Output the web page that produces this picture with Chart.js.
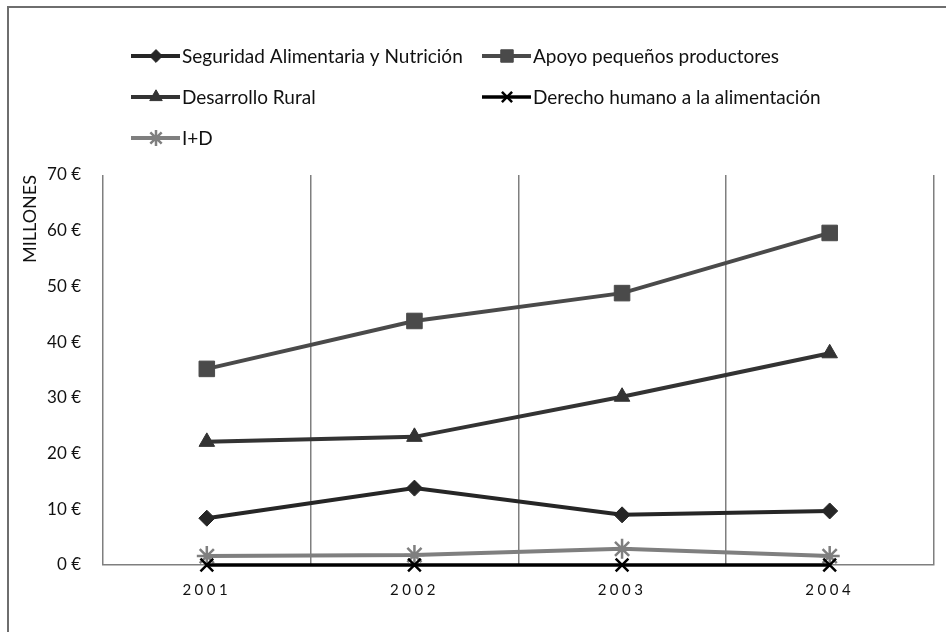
<!DOCTYPE html>
<html>
<head>
<meta charset="utf-8">
<script src="https://cdn.jsdelivr.net/npm/chart.js@4/dist/chart.umd.min.js"></script>
<style>
  html, body { margin: 0; padding: 0; background: #fff; }
  #wrap { position: relative; width: 946px; height: 632px; overflow: hidden; }
  #frame { position: absolute; left: 7px; top: 6px; width: 1000px; height: 1000px; border: 2px solid #6e6e6e; }
  #chart { position: absolute; left: 0; top: 0; }
</style>
</head>
<body>
<div id="wrap">
  <div id="frame"></div>
  <canvas id="chart" width="946" height="632"></canvas>
</div>
<script>
// Data
const years = ['2001', '2002', '2003', '2004'];
const seguridad = [8.4, 13.8, 9.0, 9.7];
const apoyo = [35.2, 43.8, 48.8, 59.6];
const desarrollo = [22.1, 23.0, 30.2, 38.0];
const derecho = [0, 0, 0, 0];
const imasd = [1.6, 1.8, 2.9, 1.6];
const yTicks = [0, 10, 20, 30, 40, 50, 60, 70];

const FONT = 'Lato, "Open Sans", sans-serif';
const TEXT = '#111111';

function series(label, data, color, style, radius, width) {
    const thin = (style === 'crossRot' || style === 'star');
    return {
        label: label,
        data: data,
        borderColor: color,
        backgroundColor: color,
        pointBackgroundColor: color,
        pointBorderColor: color,
        pointStyle: style,
        pointRadius: radius,
        pointBorderWidth: thin ? 2.5 : 1,
        borderWidth: width,
        tension: 0,
        fill: false,
        clip: false
    };
}

const datasets = [
    series('Seguridad Alimentaria y Nutrición', seguridad, '#262626', 'rectRot', 8, 4),
    series('Apoyo pequeños productores', apoyo, '#4a4a4a', 'rect', 11, 4),
    series('Desarrollo Rural', desarrollo, '#333333', 'triangle', 9, 4),
    series('Derecho humano a la alimentación', derecho, '#000000', 'crossRot', 9, 3.5),
    series('I+D', imasd, '#7f7f7f', 'star', 10, 4)
];

// legend slots (two columns, three rows)
const legendSlots = [
    { x: 131, y: 56 }, { x: 482, y: 56 },
    { x: 131, y: 97 }, { x: 482, y: 97 },
    { x: 131, y: 138 }
];

const gridLegend = {
    id: 'gridLegend',
    afterDatasetsDraw(chart) {
        // letter spaced x labels are drawn after this hook
        chart.ctx.letterSpacing = '3.5px';
    },
    afterDraw(chart) {
        const ctx = chart.ctx;
        ctx.save();
        ctx.letterSpacing = '0px';
        chart.data.datasets.forEach((ds, i) => {
            const s = legendSlots[i];
            ctx.strokeStyle = ds.borderColor;
            ctx.lineWidth = ds.borderWidth;
            ctx.beginPath();
            ctx.moveTo(s.x, s.y);
            ctx.lineTo(s.x + 49, s.y);
            ctx.stroke();
            ctx.fillStyle = ds.pointBackgroundColor;
            ctx.strokeStyle = ds.pointBorderColor;
            ctx.lineWidth = ds.pointBorderWidth;
            Chart.helpers.drawPoint(ctx, {
                pointStyle: ds.pointStyle,
                radius: ds.pointRadius * 0.8,
                rotation: 0,
                borderWidth: ds.pointBorderWidth
            }, s.x + 25, s.y);
            ctx.fillStyle = TEXT;
            ctx.font = '19px ' + FONT;
            ctx.textBaseline = 'middle';
            ctx.textAlign = 'left';
            ctx.fillText(ds.label, s.x + 51, s.y + 1);
        });
        ctx.restore();
    }
};

const ctx = document.getElementById('chart').getContext('2d');
new Chart(ctx, {
    type: 'line',
    data: { labels: years, datasets: datasets },
    plugins: [gridLegend],
    options: {
        responsive: false,
        animation: false,
        layout: { padding: { top: 175, left: 0, right: 10, bottom: 0 } },
        plugins: {
            legend: { display: false },
            tooltip: { enabled: false }
        },
        scales: {
            x: {
                offset: true,
                grid: {
                    offset: true,
                    color: '#7f7f7f',
                    lineWidth: 1.5,
                    drawTicks: false
                },
                border: { display: true, color: '#7f7f7f', width: 1.5 },
                ticks: {
                    color: TEXT,
                    padding: 16,
                    font: { family: FONT, size: 15 },
                    z: 1
                },
                afterFit(scale) { scale.height = 67; }
            },
            y: {
                min: 0,
                max: 70,
                afterBuildTicks(scale) {
                    scale.ticks = yTicks.map(v => ({ value: v }));
                },
                grid: { display: false },
                border: { display: false },
                ticks: {
                    color: TEXT,
                    padding: 14,
                    font: { family: FONT, size: 17 },
                    callback: v => v + ' €'
                },
                title: {
                    display: true,
                    text: 'MILLONES',
                    align: 'end',
                    color: TEXT,
                    font: { family: FONT, size: 18 },
                    padding: { top: 19, bottom: 0 }
                },
                afterFit(scale) { scale.width = 103; }
            }
        }
    }
});
</script>
</body>
</html>
